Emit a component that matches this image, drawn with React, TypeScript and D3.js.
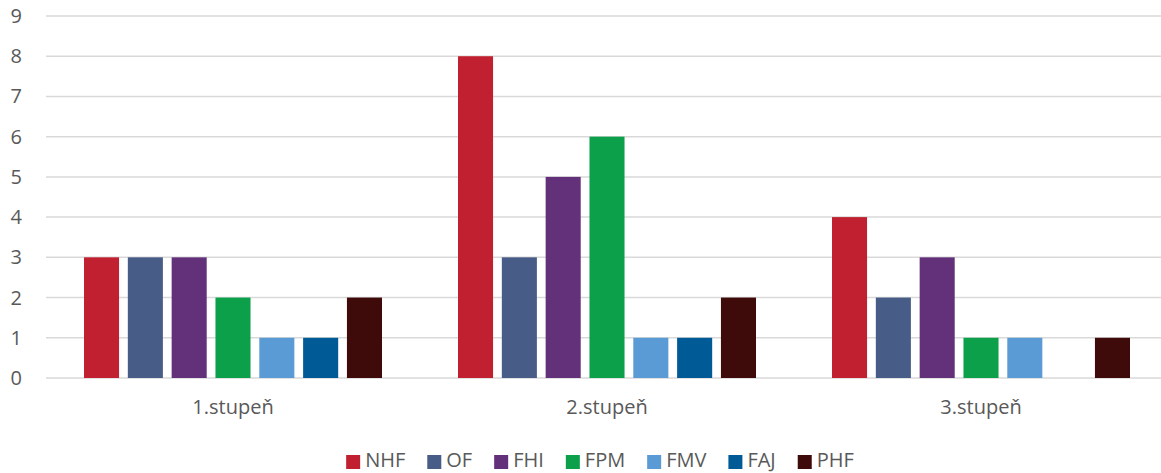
import React from "react";
import * as d3 from "d3";

const categories = ["1.stupeň", "2.stupeň", "3.stupeň"];
const seriesNames = ["NHF", "OF", "FHI", "FPM", "FMV", "FAJ", "PHF"];
const seriesColors = ["#C0202F", "#475C87", "#63317A", "#0DA04A", "#5B9BD5", "#005A96", "#3E0A0A"];
const NHF = [3, 8, 4];
const OF = [3, 3, 2];
const FHI = [3, 5, 3];
const FPM = [2, 6, 1];
const FMV = [1, 1, 1];
const FAJ = [1, 1, 0];
const PHF = [2, 2, 1];
const seriesValues = [NHF, OF, FHI, FPM, FMV, FAJ, PHF];
const yTicks = [0, 1, 2, 3, 4, 5, 6, 7, 8, 9];

const W = 1161;
const H = 473;
const FONT = "'Open Sans', sans-serif";
const TEXT = "#595959";

function measure(t: string, size: number) {
  const c = document.createElement("canvas").getContext("2d");
  if (!c) return t.length * size * 0.6;
  c.font = `${size}px ${FONT}`;
  return c.measureText(t).width;
}

export default function App() {
  const left = 46;
  const plotRight = 1168;
  const top = 16;
  const bottom = 378;
  const x0 = d3.scaleBand<string>().domain(categories).range([left, plotRight]).padding(0);
  const x1 = d3
    .scaleBand<string>()
    .domain(seriesNames)
    .range([38, x0.bandwidth() - 38])
    .paddingInner(0.2)
    .paddingOuter(0);
  const y = d3.scaleLinear().domain([0, 9]).range([bottom, top]);

  // legend layout
  const fs = 20;
  const sq = 14;
  const gapText = 5;
  const gapItem = 22;
  const widths = seriesNames.map((s) => sq + gapText + measure(s, fs));
  const total = widths.reduce((a, b) => a + b, 0) + gapItem * (seriesNames.length - 1);
  let cur = 600 - total / 2;
  const legendX = widths.map((w) => {
    const p = cur;
    cur += w + gapItem;
    return p;
  });
  const legendY = 462;

  return (
    <svg width={W} height={H} style={{ position: "absolute", left: 0, top: 0, background: "#fff" }} fontFamily={FONT}>
      {yTicks.map((t) => (
        <g key={t}>
          <line x1={left} x2={W} y1={y(t)} y2={y(t)} stroke="#D9D9D9" strokeWidth={1.5} />
          <text x={22} y={y(t)} dy="0.35em" textAnchor="end" fontSize={20} fill={TEXT}>
            {t}
          </text>
        </g>
      ))}
      {categories.map((c, ci) => (
        <g key={c} transform={`translate(${x0(c)},0)`}>
          {seriesNames.map((s, si) => {
            const v = seriesValues[si][ci];
            if (!v) return null;
            return (
              <rect
                key={s}
                x={x1(s)}
                width={x1.bandwidth()}
                y={y(v)}
                height={y(0) - y(v)}
                fill={seriesColors[si]}
              />
            );
          })}
          <text x={x0.bandwidth() / 2} y={414} textAnchor="middle" fontSize={20} fill={TEXT}>
            {c}
          </text>
        </g>
      ))}
      {seriesNames.map((s, i) => (
        <g key={s} transform={`translate(${legendX[i]},${legendY})`}>
          <rect x={0} y={-7} width={sq} height={sq} fill={seriesColors[i]} />
          <text x={sq + gapText} y={5} fontSize={fs} fill={TEXT}>
            {s}
          </text>
        </g>
      ))}
    </svg>
  );
}
